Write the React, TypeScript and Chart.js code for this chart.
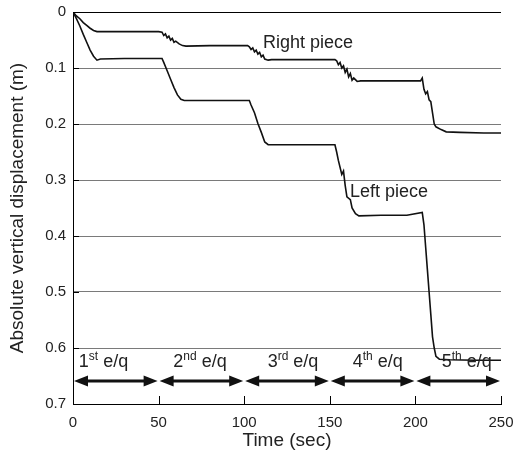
import React, { useEffect, useRef } from "react";
import { Chart, registerables } from "chart.js";

Chart.register(...registerables);

// Time (sec) and absolute vertical displacement (m)
const rightTime = [0, 2, 4, 6, 8, 10, 12, 14, 20, 30, 40, 50, 52, 53, 54, 55, 56, 57, 58, 59, 60, 62, 64, 66, 80, 95, 102, 103, 104, 105, 106, 107, 108, 109, 110, 111, 112, 114, 116, 130, 145, 153, 154, 155, 156, 157, 158, 159, 160, 161, 162, 163, 164, 166, 168, 180, 195, 203, 204, 205, 206, 207, 208, 209, 210, 211, 212, 215, 218, 226, 240, 250];
const rightDisp = [0, 0.007, 0.012, 0.019, 0.024, 0.029, 0.033, 0.035, 0.035, 0.035, 0.035, 0.035, 0.036, 0.042, 0.039, 0.046, 0.043, 0.05, 0.047, 0.054, 0.052, 0.057, 0.06, 0.061, 0.06, 0.06, 0.06, 0.062, 0.067, 0.064, 0.071, 0.068, 0.075, 0.072, 0.08, 0.077, 0.084, 0.086, 0.085, 0.085, 0.085, 0.085, 0.087, 0.094, 0.09, 0.1, 0.096, 0.108, 0.102, 0.116, 0.11, 0.122, 0.118, 0.124, 0.123, 0.123, 0.123, 0.123, 0.118, 0.138, 0.146, 0.142, 0.157, 0.16, 0.18, 0.2, 0.205, 0.21, 0.214, 0.215, 0.216, 0.216];

const leftTime = [0, 2, 4, 6, 8, 10, 12, 14, 16, 30, 45, 52, 53, 55, 57, 59, 61, 63, 65, 80, 95, 103, 104, 106, 108, 110, 112, 114, 130, 153, 154, 155, 157, 158, 159, 160, 162, 163, 165, 167, 180, 195, 204, 205, 206, 207, 208, 209, 210, 211, 212, 214, 220, 235, 250];
const leftDisp = [0, 0.012, 0.025, 0.04, 0.054, 0.068, 0.079, 0.086, 0.084, 0.083, 0.083, 0.083, 0.09, 0.105, 0.12, 0.135, 0.148, 0.156, 0.158, 0.158, 0.158, 0.158, 0.166, 0.18, 0.199, 0.215, 0.232, 0.237, 0.237, 0.237, 0.25, 0.265, 0.29, 0.284, 0.31, 0.33, 0.335, 0.35, 0.36, 0.364, 0.363, 0.363, 0.358, 0.38, 0.42, 0.46, 0.5, 0.54, 0.58, 0.6, 0.615, 0.62, 0.621, 0.622, 0.622];

const xTicks = [0, 50, 100, 150, 200, 250];
const yTicks = [0, 0.1, 0.2, 0.3, 0.4, 0.5, 0.6, 0.7];

// Earthquake intervals
const eqStart = [0, 50, 100, 150, 200];
const eqEnd = [50, 100, 150, 200, 250];
const eqNumber = ["1", "2", "3", "4", "5"];
const eqSuffix = ["st", "nd", "rd", "th", "th"];

const FONT = "'Liberation Sans', Arial, Helvetica, sans-serif";

const annotationPlugin = {
  id: "annots",
  afterDatasetsDraw(chart: any) {
    const ctx = chart.ctx;
    const xs = chart.scales.x;
    const ys = chart.scales.y;
    const area = chart.chartArea;
    ctx.save();
    // inward x tick marks
    ctx.strokeStyle = "#000";
    ctx.lineWidth = 1;
    xTicks.forEach((t) => {
      const px = Math.round(xs.getPixelForValue(t)) + 0.5;
      ctx.beginPath();
      ctx.moveTo(px, area.bottom);
      ctx.lineTo(px, area.bottom - 8);
      ctx.stroke();
    });
    // inward y tick marks
    yTicks.forEach((v) => {
      const py = Math.round(ys.getPixelForValue(v)) + 0.5;
      ctx.beginPath();
      ctx.moveTo(area.left, py);
      ctx.lineTo(area.left + 6, py);
      ctx.stroke();
    });

    // arrows
    const ay = ys.getPixelForValue(0.659);
    ctx.fillStyle = "#111";
    ctx.strokeStyle = "#111";
    eqStart.forEach((s, i) => {
      const x1 = xs.getPixelForValue(s) + 1;
      const x2 = xs.getPixelForValue(eqEnd[i]) - 1;
      const hl = 14;
      const hw = 5.5;
      ctx.lineWidth = 3;
      ctx.beginPath();
      ctx.moveTo(x1 + hl - 2, ay);
      ctx.lineTo(x2 - hl + 2, ay);
      ctx.stroke();
      ctx.beginPath();
      ctx.moveTo(x1, ay);
      ctx.lineTo(x1 + hl, ay - hw);
      ctx.lineTo(x1 + hl, ay + hw);
      ctx.closePath();
      ctx.fill();
      ctx.beginPath();
      ctx.moveTo(x2, ay);
      ctx.lineTo(x2 - hl, ay - hw);
      ctx.lineTo(x2 - hl, ay + hw);
      ctx.closePath();
      ctx.fill();
    });

    // e/q labels
    const labelCenters = [17.8, 74.2, 128.5, 178, 230];
    const by = ys.getPixelForValue(0.634);
    ctx.fillStyle = "#222";
    ctx.textBaseline = "alphabetic";
    ctx.textAlign = "left";
    eqNumber.forEach((n, i) => {
      const big = "18px " + FONT;
      const small = "12px " + FONT;
      ctx.font = big;
      const w1 = ctx.measureText(n).width;
      const rest = " e/q";
      const w3 = ctx.measureText(rest).width;
      ctx.font = small;
      const w2 = ctx.measureText(eqSuffix[i]).width;
      const total = w1 + w2 + w3;
      let x = xs.getPixelForValue(labelCenters[i]) - total / 2;
      ctx.font = big;
      ctx.fillText(n, x, by);
      x += w1;
      ctx.font = small;
      ctx.fillText(eqSuffix[i], x, by - 7);
      x += w2;
      ctx.font = big;
      ctx.fillText(rest, x, by);
    });

    // piece labels
    ctx.font = "18px " + FONT;
    ctx.fillText("Right piece", xs.getPixelForValue(111), ys.getPixelForValue(0.064));
    ctx.fillText("Left piece", xs.getPixelForValue(161.8), ys.getPixelForValue(0.33));
    ctx.restore();
  },
};

export default function App() {
  const ref = useRef<HTMLCanvasElement | null>(null);
  useEffect(() => {
    if (!ref.current) return;
    const chart = new Chart(ref.current, {
      type: "line",
      data: {
        datasets: [
          {
            label: "Right piece",
            data: rightTime.map((t, i) => ({ x: t, y: rightDisp[i] })),
            borderColor: "#111",
            borderWidth: 1.6,
            pointRadius: 0,
            tension: 0,
          },
          {
            label: "Left piece",
            data: leftTime.map((t, i) => ({ x: t, y: leftDisp[i] })),
            borderColor: "#111",
            borderWidth: 1.6,
            pointRadius: 0,
            tension: 0,
          },
        ],
      },
      options: {
        responsive: false,
        animation: false,
        layout: { padding: { left: 0, right: 13, top: 12, bottom: 0 } },
        plugins: { legend: { display: false }, tooltip: { enabled: false } },
        scales: {
          x: {
            type: "linear",
            min: 0,
            max: 250,
            afterFit: (s: any) => {
              s.height = 51;
              s.paddingLeft = 0;
              s.paddingRight = 0;
            },
            ticks: {
              stepSize: 50,
              padding: 2,
              color: "#222",
              font: { family: FONT, size: 15 },
              maxRotation: 0,
            },
            grid: { display: false },
            border: { display: true, color: "#000", width: 1 },
            title: {
              display: true,
              text: "Time (sec)",
              color: "#222",
              font: { family: FONT, size: 19 },
              padding: { top: 0, bottom: 3 },
            },
          },
          y: {
            type: "linear",
            reverse: true,
            min: 0,
            max: 0.7,
            afterFit: (s: any) => {
              s.width = 73;
              s.paddingTop = 0;
              s.paddingBottom = 0;
            },
            ticks: {
              stepSize: 0.1,
              padding: 7,
              color: "#222",
              font: { family: FONT, size: 15 },
              callback: (v: any) => (v === 0 ? "0" : Number(v).toFixed(1)),
            },
            grid: {
              drawTicks: false,
              color: (c: any) =>
                c.tick && c.tick.value === 0 ? "#000" : "#7a7a7a",
              lineWidth: 1,
            },
            border: { display: true, color: "#000", width: 1 },
            title: {
              display: true,
              text: "Absolute vertical displacement (m)",
              color: "#222",
              font: { family: FONT, size: 19 },
              padding: { top: 6, bottom: 0 },
            },
          },
        },
      },
      plugins: [annotationPlugin],
    });
    return () => chart.destroy();
  }, []);
  return (
    <div style={{ position: "absolute", left: 0, top: 0, width: 514, height: 455, background: "#fff" }}>
      <canvas ref={ref} width={514} height={455} />
    </div>
  );
}
